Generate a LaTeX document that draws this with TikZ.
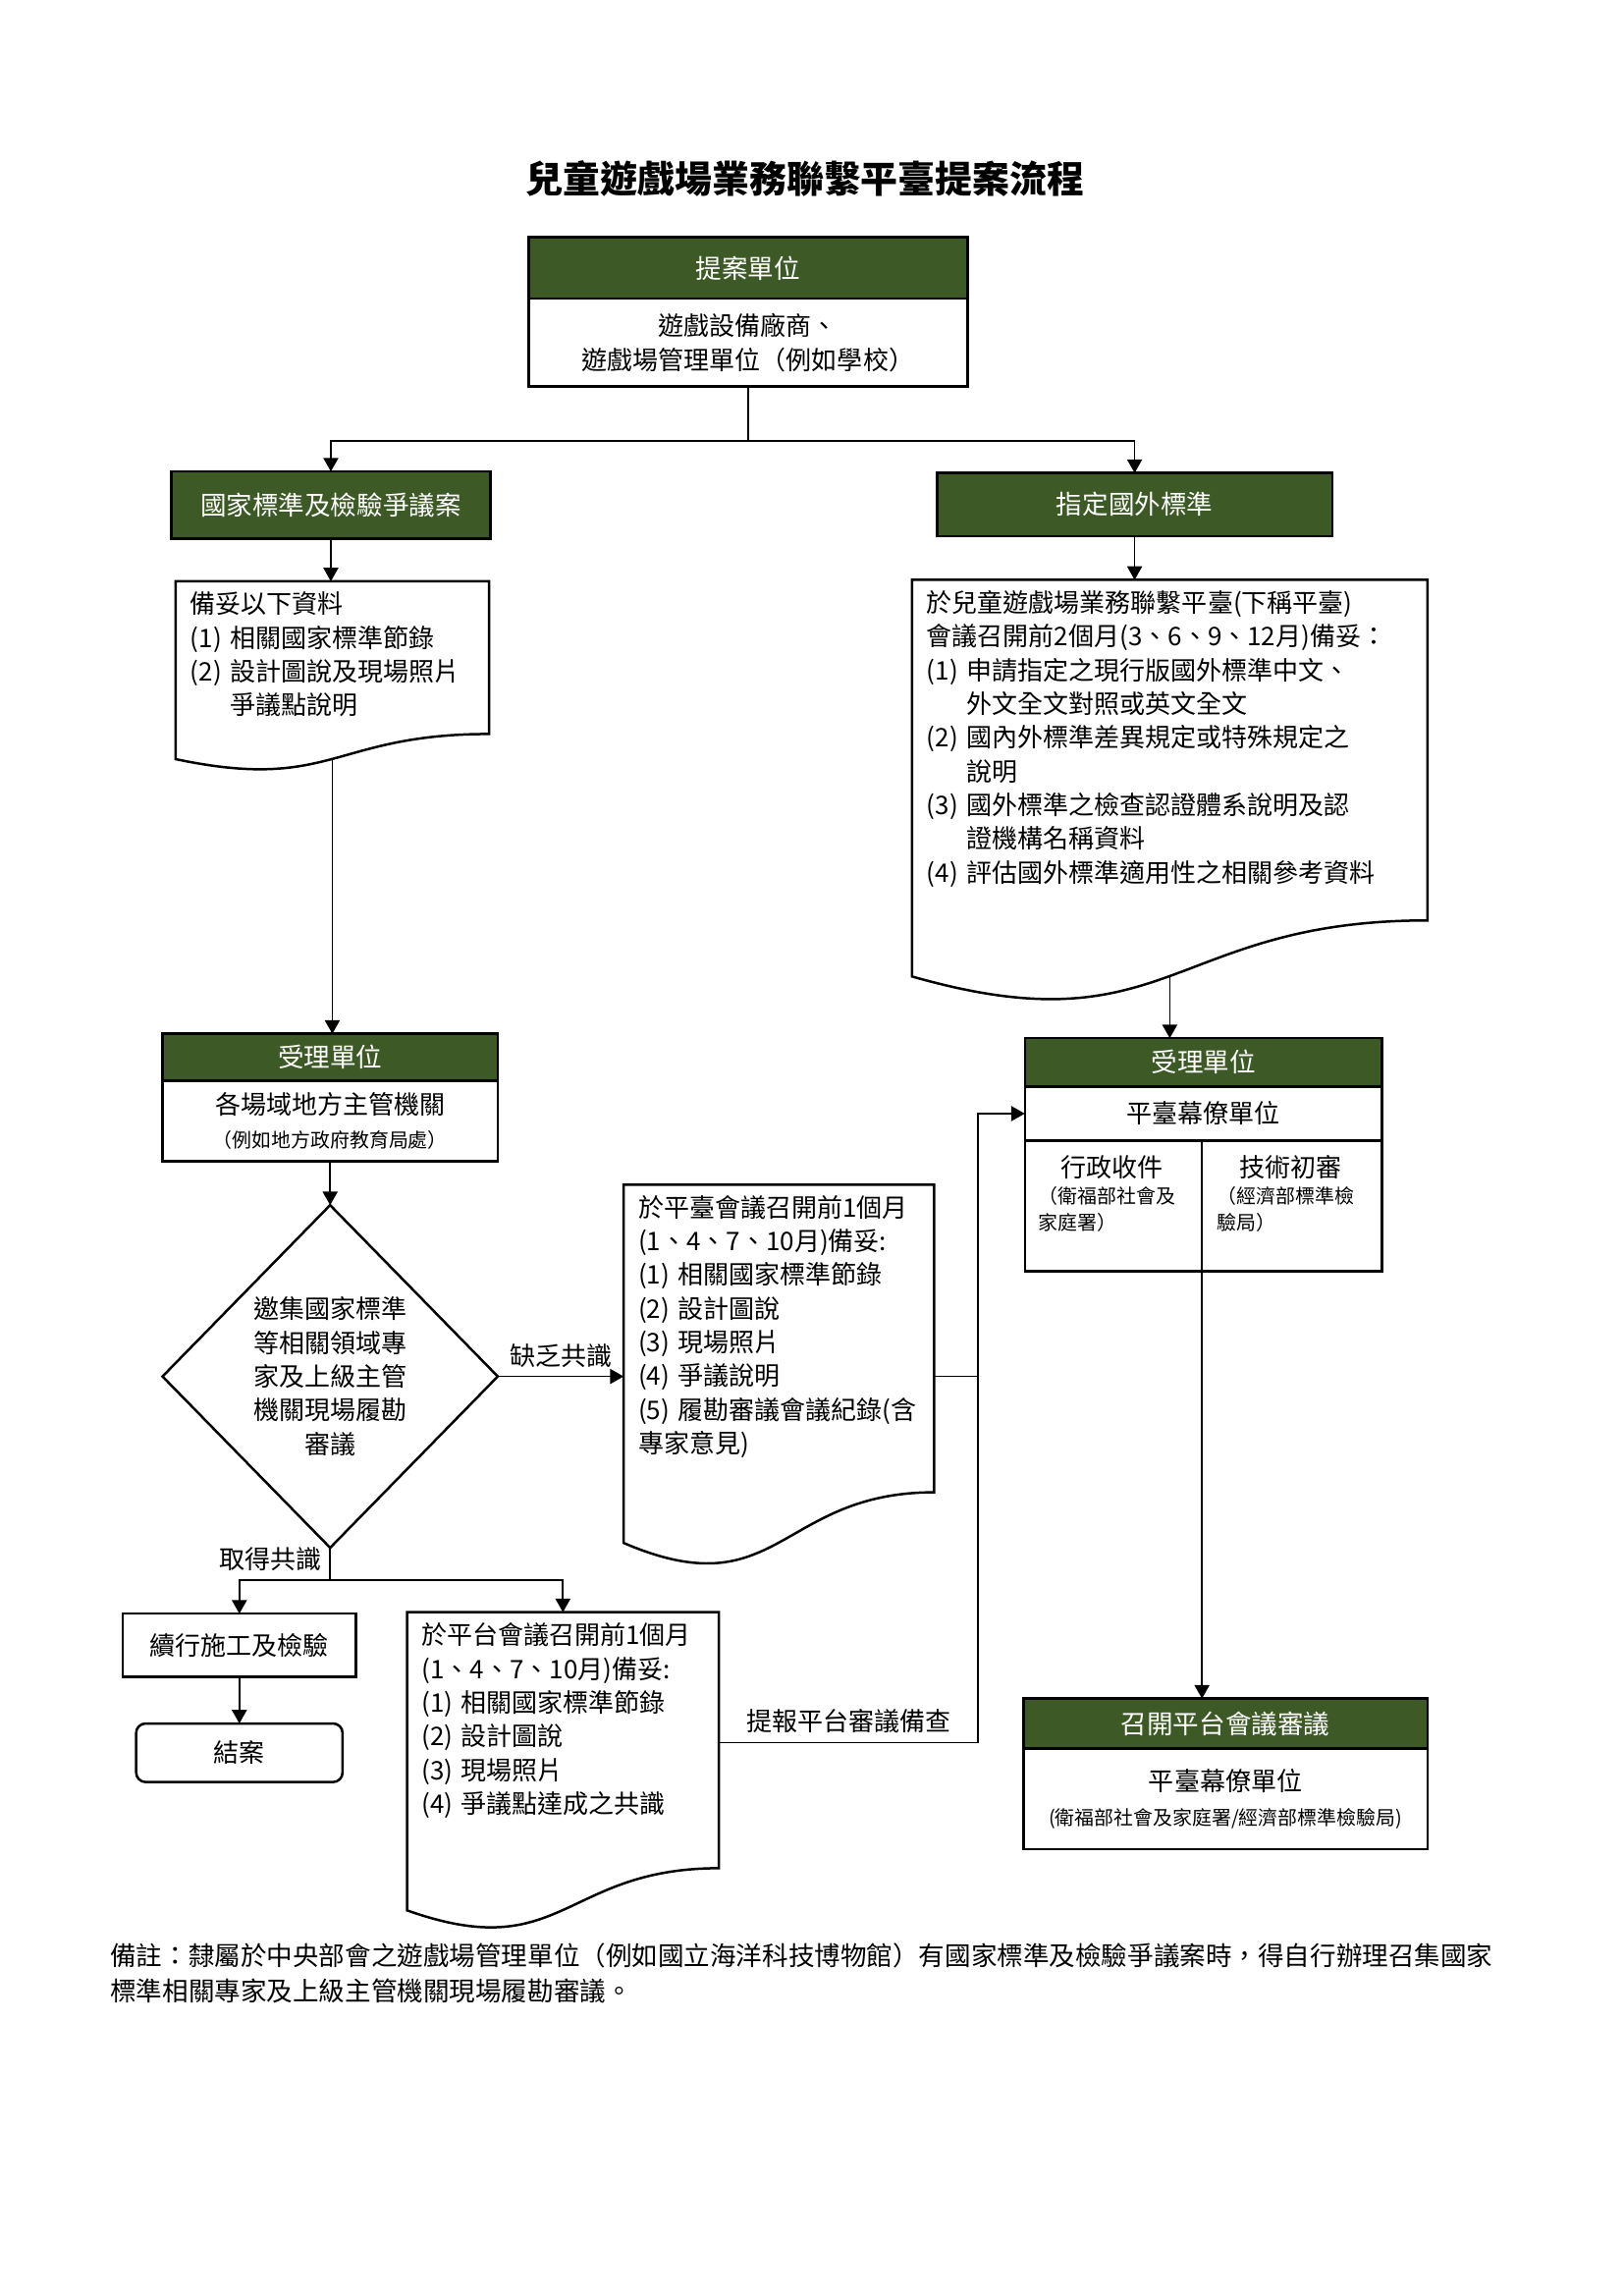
\documentclass[tikz,border=0pt]{standalone}
\usepackage{fontspec}
\setmainfont{Noto Sans CJK TC}
\usetikzlibrary{arrows.meta,shapes.geometric,calc,positioning}
\definecolor{hdgreen}{RGB}{60,89,38}
\newcommand\bodyfont{\fontsize{9.4}{12.4}\selectfont}
\newcommand\notefont{\fontsize{7.2}{9.7}\selectfont}
\newcommand\itm[1]{\makebox[1.55em][l]{(#1)}}
\newcommand\docoutline[2]{%
  \draw[docline] (#1.north west) -- (#1.north east)
    -- ($(#1.north east)+(0,{0.802*#2})$)
    .. controls ($(#1.north)+(0,{0.802*#2})$) and ($(#1.north)+(0,{1.1075*#2})$)
    .. ($(#1.north west)+(0,{0.934*#2})$) -- cycle;
  \coordinate (#1-bot) at ($(#1.north)+(0,{0.933*#2})$);
}
\tikzset{
  box w/.style={minimum width=#1*0.5388pt},
  box h/.style={minimum height=#1*0.5388pt},
  doc w/.style={text width={(#1-20)*0.5388pt}},
  headbox/.style={draw, line width=0.9pt, outer sep=0pt, fill=hdgreen, text=white, inner sep=0pt, font=\fontsize{9.6}{11}\selectfont},
  plainbox/.style={draw, line width=0.9pt, outer sep=0pt, fill=white, inner sep=0pt, align=center, font=\bodyfont},
  docbox/.style={anchor=north west, align=left, inner xsep=5.388pt, inner ysep=4pt, outer sep=0pt, font=\bodyfont},
  docline/.style={line width=0.9pt},
  decision/.style={diamond, draw, line width=0.9pt, outer sep=0pt, inner sep=0pt, align=center, font=\bodyfont},
  conn/.style={line width=0.6pt},
  lbl/.style={font=\bodyfont, inner sep=3pt},
  subtitle/.style={font=\bodyfont, inner sep=0pt},
  subnote/.style={font=\notefont, align=left, anchor=north west, inner sep=0pt},
}

\begin{document}
\begin{tikzpicture}[x=0.5388pt, y=-0.5388pt, >={Triangle[length=5pt,width=5.5pt]}]
  \fill[white] (0,0) rectangle (1109,1568);
  \useasboundingbox (0,0) rectangle (1109,1568);

  \node[font=\fontsize{13.7}{16}\selectfont\bfseries] (title) at (550,122) {兒童遊戲場業務聯繫平臺提案流程};

  \node[headbox, box w=300, box h=42] (propHead) at (511,183) {提案單位};
  \node[plainbox, box w=300, box h=60, below=0pt of propHead] (propBody) {遊戲設備廠商、\\遊戲場管理單位（例如學校）};

  \node[headbox, box w=218, box h=46] (natHead) at (226,345) {國家標準及檢驗爭議案};
  \node[headbox, box w=270, box h=43] (forHead) at (775,344.5) {指定國外標準};

  \node[docbox, doc w=214] (natDoc) at (120,397) {備妥以下資料\\\itm{1}相關國家標準節錄\\\itm{2}設計圖說及現場照片\\\hspace*{1.55em}爭議點說明};
  \docoutline{natDoc}{130}

  \node[docbox, doc w=352] (forDoc) at (623,396) {於兒童遊戲場業務聯繫平臺(下稱平臺)\\
    會議召開前2個月(3、6、9、12月)備妥：\\
    \itm{1}申請指定之現行版國外標準中文、\\
    \hspace*{1.55em}外文全文對照或英文全文\\
    \itm{2}國內外標準差異規定或特殊規定之\\
    \hspace*{1.55em}說明\\
    \itm{3}國外標準之檢查認證體系說明及認\\
    \hspace*{1.55em}證機構名稱資料\\
    \itm{4}評估國外標準適用性之相關參考資料};
  \docoutline{forDoc}{290}

  \node[headbox, box w=229, box h=32] (accLHead) at (225.5,722) {受理單位};
  \node[plainbox, box w=229, box h=55, below=0pt of accLHead] (accLBody) {各場域地方主管機關\\{\notefont （例如地方政府教育局處）}};

  \node[decision, box w=229, box h=234] (dia) at (225.5,940) {邀集國家標準\\等相關領域專\\家及上級主管\\機關現場履勘\\審議};

  \node[docbox, doc w=212] (midDoc) at (426,809) {於平臺會議召開前1個月\\
    (1、4、7、10月)備妥:\\
    \itm{1}相關國家標準節錄\\
    \itm{2}設計圖說\\
    \itm{3}現場照片\\
    \itm{4}爭議說明\\
    \itm{5}履勘審議會議紀錄(含\\
    專家意見)};
  \docoutline{midDoc}{262}

  \node[headbox, box w=244, box h=33] (accRHead) at (822,725.5) {受理單位};
  \node[plainbox, box w=244, box h=37, below=0pt of accRHead] (accRBody) {平臺幕僚單位};
  \node[plainbox, box w=121, box h=89, below right=0pt of accRBody.south west] (admBox) {};
  \node[plainbox, box w=123, box h=89, right=0pt of admBox] (techBox) {};
  \node[subtitle] (admTitle) at ([shift={(-1,18)}]admBox.north) {行政收件};
  \node[subnote] (admNote) at ([shift={(9,31)}]admBox.north west) {（衛福部社會及\\家庭署）};
  \node[subtitle] (techTitle) at ([shift={(-1,18)}]techBox.north) {技術初審};
  \node[subnote] (techNote) at ([shift={(10,31)}]techBox.north west) {（經濟部標準檢\\驗局）};

  \node[headbox, box w=276, box h=34] (confHead) at (837,1177) {召開平台會議審議};
  \node[plainbox, box w=276, box h=69, below=0pt of confHead] (confBody) {平臺幕僚單位\\{\notefont (衛福部社會及家庭署/經濟部標準檢驗局)}};

  \node[plainbox, box w=159, box h=43] (contBox) at (163.5,1123.5) {續行施工及檢驗};
  \node[plainbox, box w=141, box h=40, rounded corners=3.5pt] (endBox) at (163.5,1197) {結案};

  \node[docbox, doc w=213] (botDoc) at (278,1101) {於平台會議召開前1個月\\
    (1、4、7、10月)備妥:\\
    \itm{1}相關國家標準節錄\\
    \itm{2}設計圖說\\
    \itm{3}現場照片\\
    \itm{4}爭議點達成之共識};
  \docoutline{botDoc}{218}

  \node[anchor=north west, align=left, inner sep=0pt, font=\fontsize{9.6}{12.9}\selectfont] (remark) at (75,1327) {備註：隸屬於中央部會之遊戲場管理單位（例如國立海洋科技博物館）有國家標準及檢驗爭議案時，得自行辦理召集國家\\標準相關專家及上級主管機關現場履勘審議。};

  \draw[conn] (propBody.south) -- ++(0,37) coordinate (split);
  \draw[conn,->] (split) -| (natHead.north);
  \draw[conn,->] (split) -| (forHead.north);
  \draw[conn,->] (natHead.south) -- (natHead.south |- natDoc.north);
  \draw[conn,->] (forHead.south) -- (forHead.south |- forDoc.north);
  \draw[conn,->] (natDoc-bot) -- (natDoc-bot |- accLHead.north);
  \draw[conn,->] (accLBody.south) -- (dia.north);
  \draw[conn,->] (dia.east) -- node[lbl, above] (lackLbl) {缺乏共識} (dia.east -| midDoc.west);
  \coordinate (merge) at ($(midDoc.north east)+(30,131)$);
  \draw[conn,->] (midDoc.east |- dia.east) -- (merge) |- (accRBody.west);
  \draw[conn,->] (forDoc-bot) -- (forDoc-bot |- accRHead.north);
  \draw[conn,->] (admBox.south east) -- (admBox.south east |- confHead.north);
  \draw[conn] (dia.south) -- node[lbl, left, pos=0.35] (agreeLbl) {取得共識} ++(0,22) coordinate (agree);
  \draw[conn,->] (agree) -| (contBox.north);
  \draw[conn,->] (agree) -| (botDoc.north);
  \draw[conn,->] (contBox.south) -- (endBox.north);
  \draw[conn] ($(botDoc.north east)+(0,89)$) coordinate (repStart) -- node[lbl, above] (repLbl) {提報平台審議備查} (repStart -| merge) -- (merge);
\end{tikzpicture}
\end{document}
